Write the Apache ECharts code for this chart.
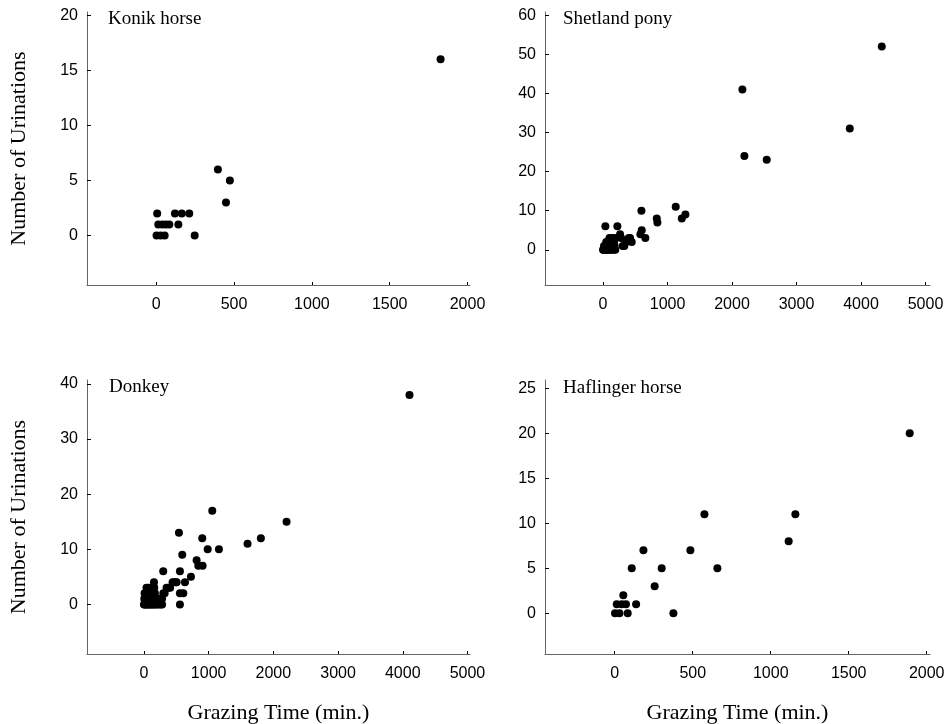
<!DOCTYPE html>
<html>
<head>
<meta charset="utf-8">
<script src="https://cdn.jsdelivr.net/npm/echarts@6/dist/echarts.min.js"></script>
<style>html,body{margin:0;padding:0;background:#fff}#c{width:951px;height:724px}</style>
</head>
<body>
<div id="c"></div>
<script>
// ---- data ----
const panelTitles = ["Konik horse", "Shetland pony", "Donkey", "Haflinger horse"];
const yAxisTitle = "Number of Urinations";
const xAxisTitle = "Grazing Time (min.)";

const konikX = [1827, 396, 473, 448, 6, 120, 164, 212, 13, 39, 62, 84, 142, 2, 28, 54, 247];
const konikY = [16, 6, 5, 3, 2, 2, 2, 2, 1, 1, 1, 1, 1, 0, 0, 0, 0];

const shetlandX = [4322, 2161, 3826, 2192, 2538, 1127, 595, 1277, 1221, 833, 843, 36, 222, 600, 579, 656, 264, 419, 445, 305,
  0, 10, 25, 40, 60, 80, 100, 130, 160, 190, 15, 35, 55, 75, 100, 120, 150, 180, 50, 70, 90, 110, 140, 170,
  100, 130, 160, 200, 280, 330, 360, 400];
const shetlandY = [52, 41, 31, 24, 23, 11, 10, 9, 8, 8, 7, 6, 6, 5, 4, 3, 4, 3, 2, 1,
  0, 0, 0, 0, 0, 0, 0, 0, 0, 0, 1, 1, 1, 1, 1, 1, 1, 1, 2, 2, 2, 2, 2, 2,
  3, 3, 3, 3, 3, 1, 2, 3];

const donkeyX = [4104, 1056, 2204, 541, 901, 1807, 1601, 985, 1159, 592, 814, 840, 907, 298, 556, 726, 634, 443, 494, 155, 556, 608, 556,
  0, 15, 30, 50, 70, 90, 110, 130, 150, 175, 200, 230, 260, 280,
  5, 20, 40, 60, 80, 100, 125, 150, 180, 210, 250, 280,
  10, 30, 55, 80, 110, 140, 170, 300, 320,
  40, 70, 120, 160, 350, 380, 405, 460, 505];
const donkeyY = [38, 17, 15, 13, 12, 12, 11, 10, 10, 9, 8, 7, 7, 6, 6, 5, 4, 4, 4, 4, 2, 2, 0,
  0, 0, 0, 0, 0, 0, 0, 0, 0, 0, 0, 0, 0, 0,
  1, 1, 1, 1, 1, 1, 1, 1, 1, 1, 1, 1,
  2, 2, 2, 2, 2, 2, 2, 2, 2,
  3, 3, 3, 3, 3, 3, 3, 4, 4];

const haflingerX = [1891, 575, 1158, 1115, 184, 485, 109, 301, 658, 256, 55, 13, 45, 72, 137, 2, 30, 83, 376];
const haflingerY = [20, 11, 11, 8, 7, 7, 5, 5, 5, 3, 2, 1, 1, 1, 1, 0, 0, 0, 0];

const xTicksA = [0, 500, 1000, 1500, 2000];
const xTicksB = [0, 1000, 2000, 3000, 4000, 5000];
const yTicksKonik = [0, 5, 10, 15, 20];
const yTicksShetland = [0, 10, 20, 30, 40, 50, 60];
const yTicksDonkey = [0, 10, 20, 30, 40];
const yTicksHaflinger = [0, 5, 10, 15, 20, 25];

// ---- layout ----
const zip = (xs, ys) => xs.map((x, i) => [x, ys[i]]);
const panels = [
  { x: konikX, y: konikY, xt: xTicksA, yt: yTicksKonik, xr: [-445, 2016], yr: [-4.5, 20.3],
    grid: { left: 87, top: 12, width: 383, height: 273 }, yName: true, xName: false },
  { x: shetlandX, y: shetlandY, xt: xTicksB, yt: yTicksShetland, xr: [-900, 5070], yr: [-9, 60.8],
    grid: { left: 545, top: 12, width: 385, height: 273 }, yName: false, xName: false },
  { x: donkeyX, y: donkeyY, xt: xTicksB, yt: yTicksDonkey, xr: [-880, 5039], yr: [-9, 40.7],
    grid: { left: 87, top: 380, width: 383, height: 274 }, yName: true, xName: true },
  { x: haflingerX, y: haflingerY, xt: xTicksA, yt: yTicksHaflinger, xr: [-447, 2021], yr: [-4.52, 25.9],
    grid: { left: 545, top: 380, width: 385, height: 274 }, yName: false, xName: true }
];

const axisColor = '#666';
const labelFont = { color: '#000', fontFamily: 'Liberation Sans, Arial, sans-serif', fontSize: 16, formatter: v => String(v) };
const serif = 'Liberation Serif, Times New Roman, serif';

const option = {
  animation: false,
  backgroundColor: '#fff',
  grid: panels.map(p => Object.assign({ outerBoundsMode: 'none', containLabel: false }, p.grid)),
  xAxis: panels.map((p, i) => ({
    type: 'value', gridIndex: i, min: p.xr[0], max: p.xr[1],
    splitLine: { show: false },
    axisLine: { show: true, onZero: false, lineStyle: { color: axisColor, width: 1 } },
    axisTick: { show: true, inside: true, length: 3, customValues: p.xt, lineStyle: { color: '#000' } },
    axisLabel: Object.assign({ margin: 12, customValues: p.xt }, labelFont),
    name: p.xName ? xAxisTitle : '',
    nameLocation: 'middle', nameGap: 48,
    nameTextStyle: { fontFamily: serif, fontSize: 22, color: '#000' }
  })),
  yAxis: panels.map((p, i) => ({
    type: 'value', gridIndex: i, min: p.yr[0], max: p.yr[1],
    splitLine: { show: false },
    axisLine: { show: true, onZero: false, lineStyle: { color: axisColor, width: 1 } },
    axisTick: { show: true, inside: true, length: 4, customValues: p.yt, lineStyle: { color: '#000' } },
    axisLabel: Object.assign({ margin: 9, customValues: p.yt }, labelFont),
    name: p.yName ? yAxisTitle : '',
    nameLocation: 'middle', nameGap: 57, nameRotate: 90,
    nameTextStyle: { fontFamily: serif, fontSize: 22, color: '#000' }
  })),
  series: panels.map((p, i) => ({
    type: 'scatter', xAxisIndex: i, yAxisIndex: i,
    data: zip(p.x, p.y), symbolSize: 8,
    itemStyle: { color: '#000', opacity: 1 }
  })),
  graphic: [
    { pos: [108, 19] }, { pos: [563, 19] }, { pos: [109, 387] }, { pos: [563, 388] }
  ].map((g, i) => ({
    type: 'text', x: g.pos[0], y: g.pos[1],
    style: { text: panelTitles[i], font: '19px ' + serif, fill: '#000', textVerticalAlign: 'middle' }
  }))
};

const chart = echarts.init(document.getElementById('c'), null, { renderer: 'canvas' });
chart.setOption(option);
</script>
</body>
</html>
